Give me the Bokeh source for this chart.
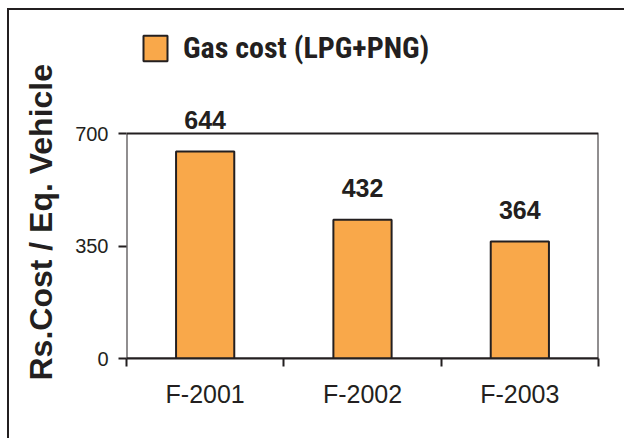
from bokeh.plotting import figure
from bokeh.models import (Range1d, FixedTicker, LinearAxis, ColumnDataSource,
                          LabelSet, Legend, LegendItem, Title)
from bokeh.core.properties import value
from bokeh.embed import file_html
from bokeh.resources import INLINE

categories = ["F-2001", "F-2002", "F-2003"]
gas_cost = [644, 432, 364]
y_ticks = [0, 350, 700]
series_name = "Gas cost (LPG+PNG)"
y_title = "Rs.Cost / Eq. Vehicle"

INK = "#231f20"
BAR = "#f9a84a"
FONT = "Liberation Sans"
LEGEND_FONT = "Roboto Condensed"

BOX_H = 225
FRAME_H = 346
FRAME_W = 472

positions = list(range(1, len(categories) + 1))
bounds = [p - 0.5 for p in positions] + [positions[-1] + 0.5]
y_top = y_ticks[-1] * FRAME_H / BOX_H

src = ColumnDataSource(dict(x=positions, y=gas_cost, lbl=[str(v) for v in gas_cost]))

p = figure(frame_width=FRAME_W, frame_height=FRAME_H,
           output_backend="svg", toolbar_location=None,
           x_range=Range1d(bounds[0], bounds[-1]), y_range=Range1d(y_ticks[0], y_top),
           x_axis_type=None, y_axis_type=None,
           min_border_left=117, min_border_top=2, min_border_right=26, min_border_bottom=80)
p.styles = {"margin-left": "7px", "margin-top": "8px",
            "border-left": "2px solid #231f20", "border-top": "2px solid #231f20"}
p.outline_line_color = None

p.quad(left=[bounds[0]], right=[bounds[-1]], bottom=[y_ticks[0]], top=[y_ticks[-1]],
       fill_color=None, line_color=INK, line_width=2)

yaxis = LinearAxis(ticker=FixedTicker(ticks=y_ticks, minor_ticks=[]))
yaxis.axis_line_color = None
yaxis.major_tick_line_color = INK
yaxis.major_tick_line_width = 2
yaxis.major_tick_in = 0
yaxis.major_tick_out = 8
yaxis.minor_tick_line_color = None
yaxis.major_label_text_font = FONT
yaxis.major_label_text_font_size = "20px"
yaxis.major_label_text_color = INK
yaxis.major_label_standoff = 10
p.add_layout(yaxis, "left")

ytitle = Title(text=y_title, align="left", offset=-22, standoff=24,
               vertical_align="top",
               text_font=FONT, text_font_style="bold", text_font_size="32px",
               text_color=INK)
p.add_layout(ytitle, "left")

xaxis = LinearAxis(ticker=FixedTicker(ticks=positions, minor_ticks=bounds))
xaxis.axis_line_color = INK
xaxis.axis_line_width = 2
xaxis.major_tick_line_color = None
xaxis.major_tick_in = 0
xaxis.major_tick_out = 0
xaxis.minor_tick_line_color = INK
xaxis.minor_tick_line_width = 2
xaxis.minor_tick_in = 0
xaxis.minor_tick_out = 8
xaxis.major_label_overrides = {pos: cat for pos, cat in zip(positions, categories)}
xaxis.major_label_text_font = FONT
xaxis.major_label_text_font_size = "25px"
xaxis.major_label_text_color = INK
xaxis.major_label_standoff = 13
p.add_layout(xaxis, "below")

p.ygrid.ticker = FixedTicker(ticks=y_ticks[1:-1])
p.ygrid.grid_line_color = INK
p.ygrid.grid_line_width = 2
p.xgrid.grid_line_color = None

bars = p.vbar(x="x", top="y", bottom=0, width=0.37, source=src,
              fill_color=BAR, line_color=INK, line_width=2)

labels = LabelSet(x="x", y="y", text="lbl", source=src, y_offset=23,
                  text_align="center", text_baseline="alphabetic",
                  text_font=value(FONT), text_font_style="bold",
                  text_font_size="25px", text_color=INK)
p.add_layout(labels)

legend = Legend(items=[LegendItem(label=series_name, renderers=[bars])],
                location=(14, 293), orientation="horizontal",
                glyph_width=30, glyph_height=32, label_standoff=13,
                padding=0, margin=0, border_line_color=None,
                background_fill_alpha=0,
                label_text_font=LEGEND_FONT,
                label_text_font_style="bold", label_text_font_size="30px",
                label_text_color=INK, label_text_baseline="middle")
p.add_layout(legend)

open("out.html", "w").write(file_html(p, INLINE))
